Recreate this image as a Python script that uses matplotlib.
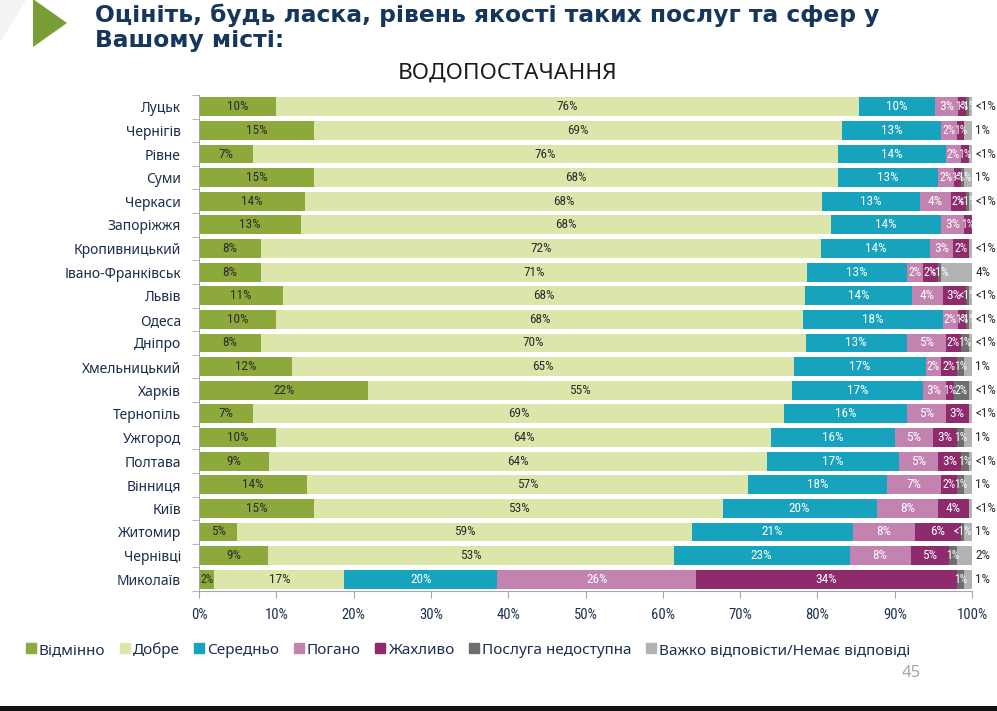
import matplotlib
matplotlib.use("Agg")
import matplotlib.pyplot as plt
from matplotlib import font_manager
from matplotlib.patches import Polygon, Rectangle
from matplotlib.lines import Line2D
import numpy as np

cities = ["Луцьк", "Чернігів", "Рівне", "Суми", "Черкаси", "Запоріжжя", "Кропивницький",
          "Івано-Франківськ", "Львів", "Одеса", "Дніпро", "Хмельницький", "Харків", "Тернопіль",
          "Ужгород", "Полтава", "Вінниця", "Київ", "Житомир", "Чернівці", "Миколаїв"]
series_names = ["Відмінно", "Добре", "Середньо", "Погано", "Жахливо",
                "Послуга недоступна", "Важко відповісти/Немає відповіді"]
# 0.4 stands for "<1%"
excellent   = [10, 15, 7, 15, 14, 13, 8, 8, 11, 10, 8, 12, 22, 7, 10, 9, 14, 15, 5, 9, 2]
good        = [76, 69, 76, 68, 68, 68, 72, 71, 68, 68, 70, 65, 55, 69, 64, 64, 57, 53, 59, 53, 17]
medium      = [10, 13, 14, 13, 13, 14, 14, 13, 14, 18, 13, 17, 17, 16, 16, 17, 18, 20, 21, 23, 20]
bad         = [3, 2, 2, 2, 4, 3, 3, 2, 4, 2, 5, 2, 3, 5, 5, 5, 7, 8, 8, 8, 26]
terrible    = [1, 1, 1, 1, 2, 1, 2, 2, 3, 1, 2, 2, 1, 3, 3, 3, 2, 4, 6, 5, 34]
unavailable = [0.4, 0, 0, 0.4, 0.4, 0, 0, 0.4, 0.4, 0.4, 1, 1, 2, 0, 1, 1, 1, 0, 0.4, 1, 1]
hard        = [0.4, 1, 0.4, 1, 0.4, 0, 0.4, 4, 0.4, 0.4, 0.4, 1, 0.4, 0.4, 1, 0.4, 1, 0.4, 1, 2, 1]
x_ticks = [0, 10, 20, 30, 40, 50, 60, 70, 80, 90, 100]

colors = ["#8DA83B", "#DCE6AA", "#17A2BE", "#C383B0", "#8E2B6D", "#6E6E6E", "#B2B2B2"]
label_colors = ["#2B2B2B", "#2B2B2B", "white", "white", "white", "white", "#2B2B2B"]


def pick(fams):
    for f in fams:
        try:
            font_manager.findfont(font_manager.FontProperties(family=f), fallback_to_default=False)
            return f
        except Exception:
            pass
    return "DejaVu Sans"


narrow = pick(["Liberation Sans Narrow", "Roboto Condensed", "DejaVu Sans"])
main_font = pick(["Noto Sans", "DejaVu Sans"])
plt.rcParams["font.family"] = [main_font, "DejaVu Sans"]

W, H = 997, 711
fig = plt.figure(figsize=(W / 100, H / 100), dpi=100)
ax = fig.add_axes([199 / W, 1 - 591 / H, 773 / W, 496 / H])

data = np.array([excellent, good, medium, bad, terrible, unavailable, hard], dtype=float)
totals = data.sum(axis=0)
widths = data / totals * 100
n = len(cities)
ypos = np.arange(n)
left = np.zeros(n)
navy = "#1C2F4F"
for i, name in enumerate(series_names):
    ax.barh(ypos, widths[i], left=left, height=0.8, color=colors[i], label=name, edgecolor="none")
    for j in range(n):
        v = data[i, j]
        if v <= 0:
            continue
        txt = "<1%" if v < 0.5 else f"{v:.0f}%"
        if i == len(series_names) - 1:
            ax.text(100.4, ypos[j], txt, ha="left", va="center", fontsize=9.5,
                    color="#2B2B2B", family=narrow, clip_on=False)
        else:
            fs = 9.5 if widths[i, j] >= 2.5 else 8.5
            ax.text(left[j] + widths[i, j] / 2, ypos[j], txt, ha="center", va="center",
                    fontsize=fs, color=label_colors[i], family=narrow)
    left += widths[i]

ax.set_xlim(0, 100)
ax.set_ylim(n - 0.5, -0.5)
ax.set_yticks(ypos)
ax.set_yticklabels(cities, fontsize=10, color=navy)
ax.set_yticks(np.arange(n + 1) - 0.5, minor=True)
ax.tick_params(axis="y", which="major", length=0, pad=13)
ax.tick_params(axis="y", which="minor", length=5, color="#A6A6A6")
ax.set_xticks(x_ticks)
ax.set_xticklabels([f"{t}%" for t in x_ticks], fontsize=10.5, color=navy, family=narrow)
ax.tick_params(axis="x", length=5, color="#A6A6A6", pad=7)
for s in ["top", "right"]:
    ax.spines[s].set_visible(False)
for s in ["left", "bottom"]:
    ax.spines[s].set_color("#A6A6A6")

# Legend
handles = [Line2D([], [], marker="s", linestyle="none", markersize=7, color=c,
                  markeredgecolor=c) for c in colors]
leg = fig.legend(handles, series_names, loc="center left", bbox_to_anchor=(26 / W, 1 - 650 / H),
                 ncol=7, frameon=False, fontsize=11, handlelength=0.6, handletextpad=0.25,
                 columnspacing=0.95, borderaxespad=0, borderpad=0)
for t in leg.get_texts():
    t.set_color(navy)

# Titles
title_color = "#16365C"
fig.text(95 / W, 1 - 22 / H, "Оцініть, будь ласка, рівень якості таких послуг та сфер у",
         fontsize=16.8, fontweight="bold", color=title_color, va="baseline", ha="left",
         family="DejaVu Sans")
fig.text(95 / W, 1 - 47 / H, "Вашому місті:", fontsize=16.8, fontweight="bold",
         color=title_color, va="baseline", ha="left", family="DejaVu Sans")
fig.text(508 / W, 1 - 73 / H, "ВОДОПОСТАЧАННЯ", fontsize=16.3, color="#1A1A1A",
         ha="center", va="center")
fig.text(911 / W, 1 - 673 / H, "45", fontsize=12, color="#A6A6A6", ha="center", va="center")

# Decorations
fig.patches.append(Polygon([(0, 1), (26 / W, 1), (0, 1 - 42 / H)], closed=True,
                           transform=fig.transFigure, facecolor="#F3F3F3", edgecolor="none"))
fig.patches.append(Polygon([(33 / W, 1 + 1 / H), (33 / W, 1 - 47 / H), (67 / W, 1 - 23 / H)],
                           closed=True, transform=fig.transFigure, facecolor="#7A9E36",
                           edgecolor="none"))
fig.patches.append(Rectangle((0, 0), 1, 5 / H, transform=fig.transFigure,
                             facecolor="#111111", edgecolor="none"))

fig.savefig("out.png", dpi=100)
